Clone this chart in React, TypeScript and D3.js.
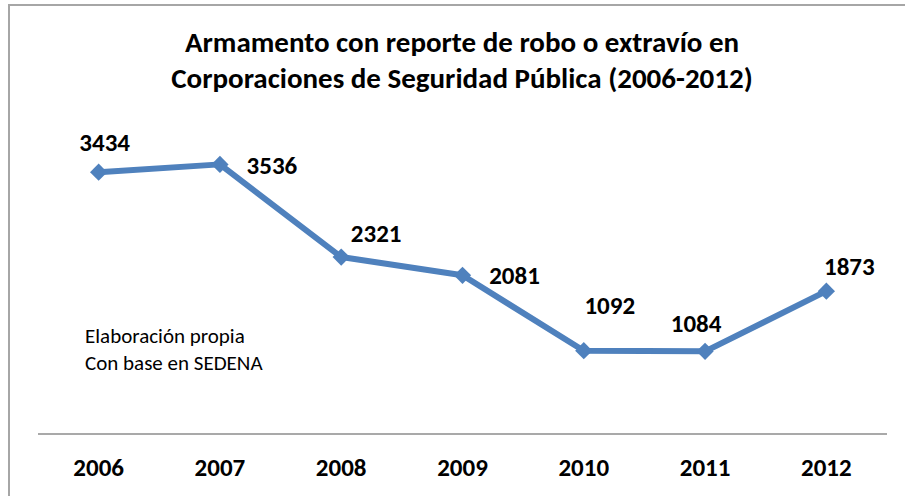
import React from "react"
import * as d3 from "d3"

// values
const years = ["2006", "2007", "2008", "2009", "2010", "2011", "2012"]
const reportes = [3434, 3536, 2321, 2081, 1092, 1084, 1873]
const titleLines = [
  "Armamento con reporte de robo o extravío en",
  "Corporaciones de Seguridad Pública (2006-2012)",
]
const sourceLines = ["Elaboración propia", "Con base en SEDENA"]

// where each data label's baseline sits relative to its marker (manual placement)
const labelOffsets: [number, number][] = [
  [6, -21], [52, 10], [35, -15], [52, 9], [26, -37], [-9, -19], [23, -16],
]

const W = 905
const H = 496
const FONT = "Carlito, Calibri, Lato, 'Open Sans', sans-serif"
const BLUE = "#4F81BD"

export default function App() {
  const x = d3.scaleBand().domain(years).range([38, 887])
  const y = d3.scaleLinear().domain([0, 4000]).range([434, 129])

  const cx = (i: number) => (x(years[i]) ?? 0) + x.bandwidth() / 2
  const line = d3
    .line<number>()
    .x((_, i) => cx(i))
    .y((d) => y(d))

  const diamond = d3.symbol().type(d3.symbolDiamond2).size(190)()

  return (
    <svg width={W} height={H} style={{ display: "block", position: "absolute", left: 0, top: 0 }}>
      <rect x={0} y={0} width={W} height={H} fill="#fff" />
      {/* chart frame, the right and bottom edges fall outside the crop */}
      <path d={`M9,${H + 2} V5 H${W + 2}`} fill="none" stroke="#a6a6a6" strokeWidth={2} />

      {titleLines.map((t, i) => (
        <text
          key={t}
          x={462}
          y={52 + i * 36}
          textAnchor="middle"
          fontFamily={FONT}
          fontWeight="bold"
          fontSize={29}
          fill="#000"
        >
          {t}
        </text>
      ))}

      {/* x axis */}
      <line x1={38} x2={887} y1={y(0)} y2={y(0)} stroke="#8c8c8c" strokeWidth={1.3} />
      {years.map((yr) => (
        <text
          key={yr}
          x={(x(yr) ?? 0) + x.bandwidth() / 2}
          y={476}
          textAnchor="middle"
          fontFamily={FONT}
          fontWeight="bold"
          fontSize={25}
        >
          {yr}
        </text>
      ))}

      <path d={line(reportes) ?? ""} fill="none" stroke={BLUE} strokeWidth={6} strokeLinejoin="round" />
      {reportes.map((v, i) => (
        <path key={i} d={diamond ?? ""} transform={`translate(${cx(i)},${y(v)})`} fill={BLUE} />
      ))}
      {reportes.map((v, i) => (
        <text
          key={"l" + i}
          x={cx(i) + labelOffsets[i][0]}
          y={y(v) + labelOffsets[i][1]}
          textAnchor="middle"
          fontFamily={FONT}
          fontWeight="bold"
          fontSize={25}
        >
          {v}
        </text>
      ))}

      {sourceLines.map((s, i) => (
        <text key={s} x={85} y={343 + i * 27} fontFamily={FONT} fontSize={21}>
          {s}
        </text>
      ))}
    </svg>
  )
}
